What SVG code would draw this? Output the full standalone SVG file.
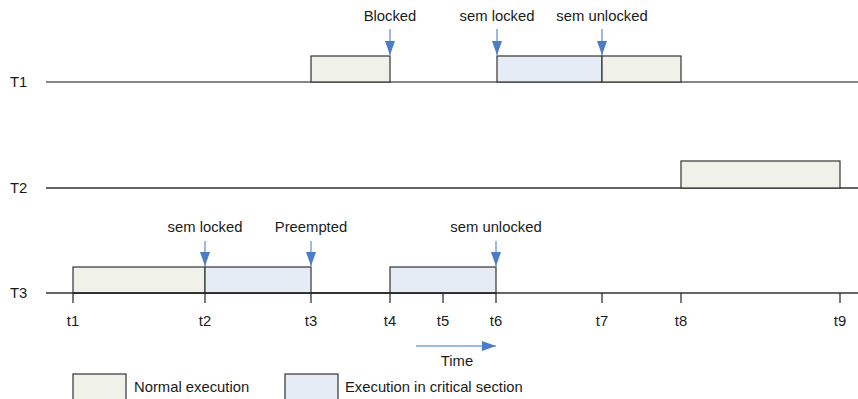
<svg xmlns="http://www.w3.org/2000/svg" width="858" height="399" viewBox="0 0 858 399">
<defs>
<style>
text{font-family:"Liberation Sans",Arial,sans-serif;font-size:14.8px;fill:#1a1a1a}
.mid{text-anchor:middle}
.n{fill:#f0f1e9;stroke:#333;stroke-width:1.2}
.c{fill:#e6ecf6;stroke:#333;stroke-width:1.2}
.axis{stroke:#111;stroke-width:1.2;fill:none}
.axis3{stroke:#666;stroke-width:2;fill:none}
.tick{stroke:#222;stroke-width:1.2}
.arr{stroke:#7aa3dc;stroke-width:1.5;fill:none}
</style>
<marker id="ahv" viewBox="0 0 14 10" refX="14" refY="5" markerWidth="14" markerHeight="10" markerUnits="userSpaceOnUse" orient="auto">
<path d="M0,0 L14,5 L0,10 z" fill="#4a7cc7"/>
</marker>
</defs>
<g id="axes">
<text x="10" y="87">T1</text>
<line class="axis" x1="46" y1="82" x2="858" y2="82"/>
<text x="10" y="193">T2</text>
<line class="axis3" x1="46" y1="188" x2="858" y2="188"/>
<text x="10" y="298">T3</text>
<line class="axis3" x1="46" y1="293" x2="858" y2="293"/>
</g>
<g id="t1-bars">
<rect class="n" x="311" y="56" width="79" height="26"/>
<rect class="c" x="497" y="56" width="105" height="26"/>
<rect class="n" x="602" y="56" width="79" height="26"/>
</g>
<g id="t2-bars">
<rect class="n" x="681" y="161" width="159" height="27"/>
</g>
<g id="t3-bars">
<rect class="n" x="73" y="267" width="132" height="26"/>
<rect class="c" x="205" y="267" width="106" height="26"/>
<rect class="c" x="390" y="267" width="106" height="26"/>
<line x1="73" y1="293" x2="496" y2="293" stroke="#222" stroke-width="1.5"/>
</g>
<g id="ticks">
<line class="tick" x1="73" y1="293" x2="73" y2="303"/>
<line class="tick" x1="205" y1="293" x2="205" y2="303"/>
<line class="tick" x1="311" y1="293" x2="311" y2="303"/>
<line class="tick" x1="390" y1="293" x2="390" y2="303"/>
<line class="tick" x1="443" y1="293" x2="443" y2="303"/>
<line class="tick" x1="496" y1="293" x2="496" y2="303"/>
<line class="tick" x1="602" y1="293" x2="602" y2="303"/>
<line class="tick" x1="681" y1="293" x2="681" y2="303"/>
<line class="tick" x1="840" y1="293" x2="840" y2="303"/>
<text class="mid" x="73" y="326">t1</text>
<text class="mid" x="205" y="326">t2</text>
<text class="mid" x="311" y="326">t3</text>
<text class="mid" x="390" y="326">t4</text>
<text class="mid" x="443" y="326">t5</text>
<text class="mid" x="496" y="326">t6</text>
<text class="mid" x="602" y="326">t7</text>
<text class="mid" x="681" y="326">t8</text>
<text class="mid" x="840" y="326">t9</text>
</g>
<g id="connectors">
<line class="arr" x1="390" y1="29" x2="390" y2="55" marker-end="url(#ahv)"/>
<line class="arr" x1="497" y1="29" x2="497" y2="55" marker-end="url(#ahv)"/>
<line class="arr" x1="602" y1="29" x2="602" y2="55" marker-end="url(#ahv)"/>
<line class="arr" x1="205" y1="241" x2="205" y2="266" marker-end="url(#ahv)"/>
<line class="arr" x1="311" y1="241" x2="311" y2="266" marker-end="url(#ahv)"/>
<line class="arr" x1="496" y1="241" x2="496" y2="266" marker-end="url(#ahv)"/>
<line class="arr" x1="416" y1="346" x2="496" y2="346" marker-end="url(#ahv)"/>
</g>
<g id="labels">
<text class="mid" x="390" y="21">Blocked</text>
<text class="mid" x="497" y="21">sem locked</text>
<text class="mid" x="602" y="21">sem unlocked</text>
<text class="mid" x="205" y="232">sem locked</text>
<text class="mid" x="311" y="232">Preempted</text>
<text class="mid" x="496" y="232">sem unlocked</text>
<text class="mid" x="457" y="366">Time</text>
</g>
<g id="legend">
<rect class="n" x="73" y="374" width="53" height="30"/>
<text x="134" y="392">Normal execution</text>
<rect class="c" x="285" y="374" width="53" height="30"/>
<text x="345" y="392">Execution in critical section</text>
</g>
</svg>
